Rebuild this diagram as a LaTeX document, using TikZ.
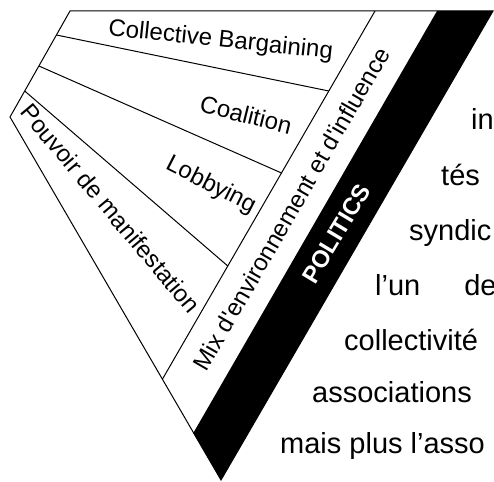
\documentclass[tikz,border=0pt]{standalone}
\usepackage{fontspec}
\setmainfont{Liberation Sans}
\begin{document}
\begin{tikzpicture}[x=1pt,y=-1pt,
  edge/.style={line width=1pt,line join=miter},
  lbl/.style={inner sep=0pt,anchor=base,font=\fontsize{24}{28}\selectfont},
  bandlbl/.style={inner sep=0pt,anchor=center,text=white,font=\bfseries\fontsize{24}{28}\selectfont},
  body/.style={inner sep=0pt,anchor=base west,font=\fontsize{29}{34}\selectfont}]
\path[use as bounding box] (0,0) rectangle (494,481);
\clip (0,0) rectangle (494,481);

% outer outline
\coordinate (tl) at (70,11);
\coordinate (tr) at (493,11);
\coordinate (tip) at (221,480);
\coordinate (lft) at (10,117);
% black band
\coordinate (bandtop) at (437,11);
\coordinate (bandlow) at (193.3,433);
% strip for the mix label
\coordinate (mixtop) at (375,11);
\coordinate (mixlow) at (162.4,379.2);
% dividers between the left fields
\coordinate (d1a) at (56.4,35);  \coordinate (d1b) at (328.8,91);
\coordinate (d2a) at (38.9,66);  \coordinate (d2b) at (281.5,173);
\coordinate (d3a) at (24.7,91);  \coordinate (d3b) at (227.8,266);

\fill (bandtop) -- (tr) -- (tip) -- (bandlow) -- cycle;
\draw[edge] (tl) -- (tr) -- (tip) -- (lft) -- cycle;
\draw[edge] (mixtop) -- (mixlow);
\draw[edge] (d1a) -- (d1b);
\draw[edge] (d2a) -- (d2b);
\draw[edge] (d3a) -- (d3b);

% field labels
\node[lbl,rotate=-6]  (cb) at (220,47)  {Collective Bargaining};
\node[lbl,rotate=-14] (co) at (244,123) {Coalition};
\node[lbl,rotate=-27] (lo) at (208,191) {Lobbying};
\node[lbl,rotate=-50] (pm) at (104,214) {Pouvoir de manifestation};
\node[lbl,rotate=60]  (mx) at (299,213) {Mix d\textquotesingle environnement et d\textquotesingle influence};
\node[bandlbl,rotate=59] (po) at (336.5,233.5) {POLITICS};

% running text beside the figure
\node[body] (t1) at (471,129) {in};
\node[body] (t2) at (441,185) {tés};
\node[body] (t3) at (409,240) {syndic};
\node[body] (t4) at (375,295) {l’un\hspace{44pt}de};
\node[body] (t5) at (344,350) {collectivité};
\node[body] (t6) at (312,402) {associations};
\node[body] (t7) at (280,453) {mais plus l’asso};
\end{tikzpicture}
\end{document}
